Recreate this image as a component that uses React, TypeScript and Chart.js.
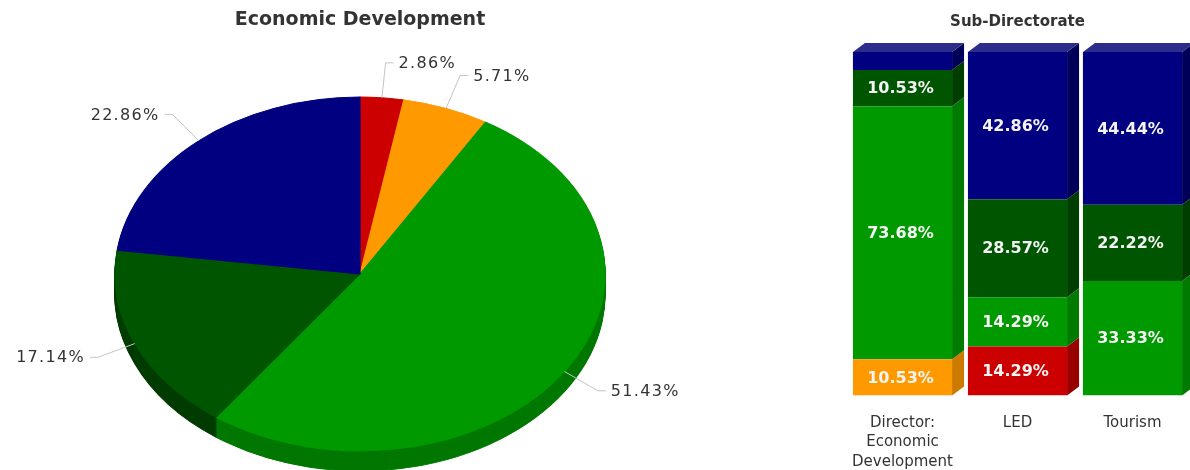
import { useEffect, useRef } from "react";
import { Chart, registerables } from "chart.js";

Chart.register(...registerables);

const FONT = "'DejaVu Sans', Verdana, sans-serif";

// ---------- Pie data ----------
const PIE_TITLE = "Economic Development";
const PIE_LABELS = ["Category 1", "Category 2", "Category 3", "Category 4", "Category 5"];
const PIE_VALUES = [2.86, 5.71, 51.43, 17.14, 22.86];
const PIE_COLORS = ["#cc0000", "#ff9900", "#009900", "#005500", "#000080"];
const PIE_SIDE_COLORS = ["#9e0000", "#c87800", "#007800", "#003c00", "#000058"];

// ---------- Bar data ----------
const BAR_TITLE = "Sub-Directorate";
const BAR_CATEGORIES = [["Director:", "Economic", "Development"], "LED", "Tourism"];
const SERIES_NAMES = ["Category 1", "Category 2", "Category 3", "Category 4", "Category 5"];
const RED_VALUES = [0, 14.29, 0];
const ORANGE_VALUES = [10.53, 0, 0];
const GREEN_VALUES = [73.68, 14.29, 33.33];
const DARKGREEN_VALUES = [10.53, 28.57, 22.22];
const NAVY_VALUES = [5.26, 42.86, 44.44];
const BAR_COLORS = ["#cc0000", "#ff9900", "#009900", "#005500", "#000080"];
const BAR_SIDE_COLORS = ["#990000", "#cc7a00", "#007a00", "#003e00", "#000058"];
const BAR_TOP_COLORS = ["#d83a3a", "#ffad3a", "#33aa33", "#2a6e2a", "#2c2c8c"];

// ---------- 3D geometry (style) ----------
const PIE_CX = 360;
const PIE_CY = 274;
const PIE_RX = 245;
const PIE_RY = 177;
const PIE_DEPTH = 20;
const BAR_DX = 12;
const BAR_DY = 9;

const pie3d = {
  id: "pie3d",
  beforeDatasetsDraw(chart: any) {
    const ctx = chart.ctx;
    const arcs = chart.getDatasetMeta(0).data;
    if (!arcs.length) return false;
    const a0 = arcs[0];
    const R = a0.outerRadius;
    const drawLayer = (off: number, colors: string[]) => {
      ctx.save();
      ctx.translate(PIE_CX, PIE_CY + off);
      ctx.scale(PIE_RX / R, PIE_RY / R);
      ctx.translate(-a0.x, -a0.y);
      arcs.forEach((arc: any, i: number) => {
        const fake = Object.create(arc);
        fake.options = { ...arc.options, backgroundColor: colors[i], borderColor: colors[i] };
        arc.draw.call(fake, ctx);
      });
      ctx.restore();
    };
    for (let d = PIE_DEPTH; d >= 1; d--) drawLayer(d, PIE_SIDE_COLORS);
    drawLayer(0, PIE_COLORS);
    return false;
  },
  afterDraw(chart: any) {
    const ctx = chart.ctx;
    const arcs = chart.getDatasetMeta(0).data;
    const values = chart.data.datasets[0].data;
    ctx.save();
    ctx.font = `16px ${FONT}`;
    try { (ctx as any).letterSpacing = "1.3px"; } catch (e) {}
    ctx.fillStyle = "#333333";
    ctx.strokeStyle = "#c4c4c4";
    ctx.lineWidth = 1;
    ctx.textBaseline = "middle";
    arcs.forEach((arc: any, i: number) => {
      const mid = (arc.startAngle + arc.endAngle) / 2;
      const c = Math.cos(mid);
      const s = Math.sin(mid);
      const x0 = PIE_CX + PIE_RX * c;
      const y0 = PIE_CY + PIE_RY * s;
      const x1 = PIE_CX + (PIE_RX + 40) * c;
      const y1 = PIE_CY + (PIE_RY + 35) * s;
      const dir = c >= 0 ? 1 : -1;
      const x2 = x1 + 8 * dir;
      ctx.beginPath();
      ctx.moveTo(x0, y0);
      ctx.lineTo(x1, y1);
      ctx.lineTo(x2, y1);
      ctx.stroke();
      ctx.textAlign = dir > 0 ? "left" : "right";
      ctx.fillText(Number(values[i]).toFixed(2) + "%", x2 + 5 * dir, y1 + 1);
    });
    ctx.restore();
  },
};

const bar3d = {
  id: "bar3d",
  afterDatasetsDraw(chart: any) {
    const ctx = chart.ctx;
    const datasets = chart.data.datasets;
    ctx.save();
    datasets.forEach((ds: any, di: number) => {
      const meta = chart.getDatasetMeta(di);
      meta.data.forEach((bar: any, idx: number) => {
        const v = ds.data[idx];
        if (!v) return;
        const { x, y, base, width } = bar.getProps(["x", "y", "base", "width"], true);
        const left = x - width / 2;
        const right = x + width / 2;
        const top = Math.min(y, base);
        const bottom = Math.max(y, base);
        ctx.fillStyle = BAR_SIDE_COLORS[di];
        ctx.beginPath();
        ctx.moveTo(right, top);
        ctx.lineTo(right + BAR_DX, top - BAR_DY);
        ctx.lineTo(right + BAR_DX, bottom - BAR_DY);
        ctx.lineTo(right, bottom);
        ctx.closePath();
        ctx.fill();
        let isTop = true;
        for (let dj = di + 1; dj < datasets.length; dj++) {
          if (datasets[dj].data[idx]) isTop = false;
        }
        if (isTop) {
          ctx.fillStyle = BAR_TOP_COLORS[di];
          ctx.beginPath();
          ctx.moveTo(left, top);
          ctx.lineTo(left + BAR_DX, top - BAR_DY);
          ctx.lineTo(right + BAR_DX, top - BAR_DY);
          ctx.lineTo(right, top);
          ctx.closePath();
          ctx.fill();
        }
      });
    });
    ctx.font = `bold 16px ${FONT}`;
    ctx.fillStyle = "#f4f4f4";
    ctx.textAlign = "center";
    ctx.textBaseline = "middle";
    datasets.forEach((ds: any, di: number) => {
      const meta = chart.getDatasetMeta(di);
      meta.data.forEach((bar: any, idx: number) => {
        const v = ds.data[idx];
        if (!v || v < 8) return;
        const { x, y, base } = bar.getProps(["x", "y", "base"], true);
        ctx.fillText(Number(v).toFixed(2) + "%", x - 2, (y + base) / 2 + 1);
      });
    });
    ctx.restore();
  },
};

export default function App() {
  const pieRef = useRef<HTMLCanvasElement>(null);
  const barRef = useRef<HTMLCanvasElement>(null);

  useEffect(() => {
    const pie = new Chart(pieRef.current as HTMLCanvasElement, {
      type: "pie",
      data: {
        labels: PIE_LABELS,
        datasets: [
          {
            data: PIE_VALUES,
            backgroundColor: PIE_COLORS,
            borderColor: PIE_COLORS,
            borderWidth: 1,
            hoverOffset: 0,
          },
        ],
      },
      options: {
        responsive: false,
        animation: false,
        events: [],
        layout: { padding: { top: 9, bottom: 20, left: 20, right: 20 } },
        plugins: {
          legend: { display: false },
          tooltip: { enabled: false },
          title: {
            display: true,
            text: PIE_TITLE,
            color: "#333333",
            font: { family: FONT, size: 19, weight: "bold" },
            padding: { top: 0, bottom: 10 },
          },
        },
      },
      plugins: [pie3d],
    } as any);

    const bar = new Chart(barRef.current as HTMLCanvasElement, {
      type: "bar",
      data: {
        labels: BAR_CATEGORIES,
        datasets: [RED_VALUES, ORANGE_VALUES, GREEN_VALUES, DARKGREEN_VALUES, NAVY_VALUES].map(
          (vals, i) => ({
            label: SERIES_NAMES[i],
            data: vals,
            backgroundColor: BAR_COLORS[i],
            borderWidth: 0,
            categoryPercentage: 0.862,
            barPercentage: 1,
          })
        ),
      },
      options: {
        responsive: false,
        animation: false,
        events: [],
        layout: { padding: { top: 0, left: 0, right: 0, bottom: -5 } },
        plugins: {
          legend: { display: false },
          tooltip: { enabled: false },
          title: {
            display: true,
            text: BAR_TITLE,
            color: "#333333",
            font: { family: FONT, size: 15, weight: "bold" },
            padding: { top: 13, bottom: 21 },
          },
        },
        scales: {
          x: {
            stacked: true,
            grid: { display: false, drawTicks: true, tickLength: 14 },
            border: { display: false },
            ticks: {
              color: "#333333",
              font: { family: FONT, size: 15, lineHeight: 1.3 },
              padding: 3.5,
              maxRotation: 0,
              autoSkip: false,
            },
          },
          y: {
            stacked: true,
            display: false,
            min: 0,
            max: 100,
          },
        },
      },
      plugins: [bar3d],
    } as any);

    return () => {
      pie.destroy();
      bar.destroy();
    };
  }, []);

  return (
    <div
      style={{
        position: "fixed",
        left: 0,
        top: 0,
        width: 1190,
        height: 470,
        background: "#ffffff",
        overflow: "hidden",
      }}
    >
      <canvas ref={pieRef} width={720} height={470} style={{ position: "absolute", left: 0, top: 0 }} />
      <canvas ref={barRef} width={345} height={470} style={{ position: "absolute", left: 845, top: 0 }} />
    </div>
  );
}
